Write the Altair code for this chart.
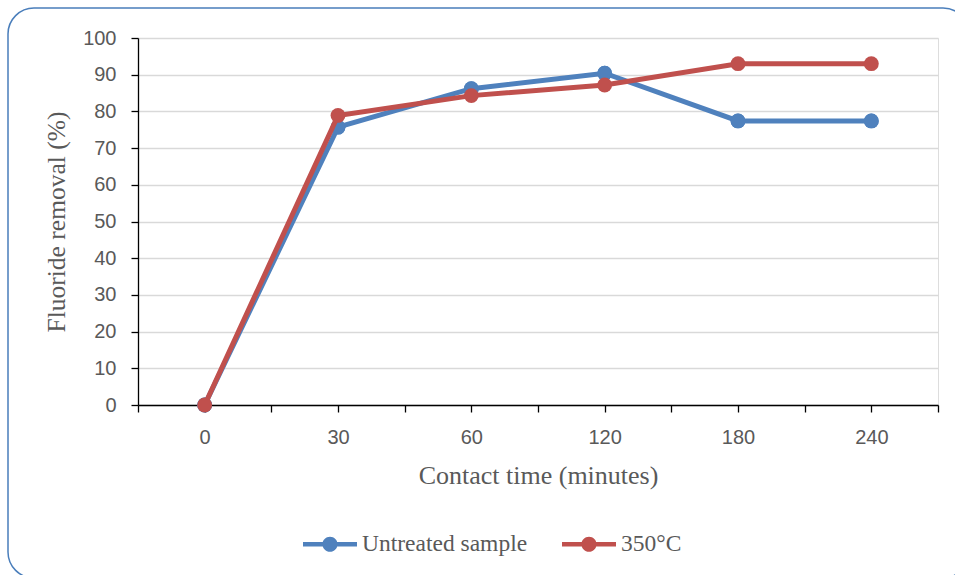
import altair as alt
import pandas as pd

times = ["0", "30", "60", "120", "180", "240"]
untreated = [0, 75.7, 86.2, 90.4, 77.4, 77.4]
heated = [0, 78.9, 84.3, 87.2, 93.0, 93.0]
series = ["Untreated sample", "350°C"]
colors = ["#4F81BD", "#C0504D"]
y_ticks = [0, 10, 20, 30, 40, 50, 60, 70, 80, 90, 100]

rows = []
for name, vals in zip(series, [untreated, heated]):
    for i, (t, v) in enumerate(zip(times, vals)):
        rows.append({"time": t, "idx": i, "series": name, "removal": v})
df = pd.DataFrame(rows)

x_tick_vals = [i * 0.5 - 0.5 for i in range(2 * len(times) + 1)]
label_expr = "datum.value % 1 === 0 ? " + str(times) + "[datum.value] : ''"

sym_path = ("M-1,-0.085 L1,-0.085 L1,0.085 L-1,0.085 Z "
            "M0.28,0 A0.28,0.28 0 1,1 -0.28,0 A0.28,0.28 0 1,1 0.28,0 Z")

x_enc = alt.X(
    "idx:Q",
    scale=alt.Scale(domain=[-0.5, len(times) - 0.5], nice=False, zero=False),
    axis=alt.Axis(
        values=x_tick_vals, labelExpr=label_expr, grid=False,
        title="Contact time (minutes)",
        domainColor="black", domainWidth=1.3, tickColor="black", tickWidth=1.3,
        tickSize=7, labelPadding=15, labelFont="Liberation Sans", labelFontSize=20,
        labelColor="#595959", labelOverlap=False, labelFlush=False,
        titleFont="Liberation Serif", titleFontSize=26, titleFontWeight="normal",
        titleColor="#595959", titlePadding=15,
    ),
)
y_enc = alt.Y(
    "removal:Q",
    scale=alt.Scale(domain=[0, 100], nice=False),
    axis=alt.Axis(
        values=y_ticks, grid=True, gridColor="#D9D9D9", gridWidth=1.5,
        title="Fluoride removal (%)",
        domainColor="black", domainWidth=1.3, tickColor="black", tickWidth=1.3,
        tickSize=7, labelPadding=15, labelFont="Liberation Sans", labelFontSize=20,
        labelColor="#595959",
        titleFont="Liberation Serif", titleFontSize=25.5, titleFontWeight="normal",
        titleColor="#595959", titlePadding=13,
    ),
)
legend = alt.Legend(
    title=None, orient="none", direction="horizontal", legendX=165, legendY=479,
    symbolType=sym_path, symbolSize=2916, symbolStrokeWidth=0, symbolOpacity=1,
    labelFont="Liberation Serif", labelFontSize=23.5, labelColor="#595959",
    labelOffset=5, columnPadding=34, labelLimit=400,
)
color_enc = alt.Color("series:N", scale=alt.Scale(domain=series, range=colors), legend=legend)

base = alt.Chart(df)
layers = []
for name in series:
    layers.append(
        base.transform_filter(alt.datum.series == name)
        .mark_line(strokeWidth=5)
        .encode(x=x_enc, y=y_enc, color=color_enc, order="idx:Q")
    )
    layers.append(
        base.transform_filter(alt.datum.series == name)
        .mark_point(filled=True, size=220, opacity=1, shape="circle")
        .encode(x=x_enc, y=y_enc, color=color_enc)
    )
# point layer first so the shared legend draws filled symbols
layers.insert(0, layers[1])

frame = alt.Chart(pd.DataFrame({"k": [0]})).mark_rect(
    fill=None, fillOpacity=0, stroke="#4A7EBB", strokeWidth=1.5, cornerRadius=26
).encode(
    x=alt.value(-130), x2=alt.value(831), y=alt.value(-30), y2=alt.value(540)
)

chart = alt.layer(frame, *layers).properties(
    width=800, height=367,
    autosize=alt.AutoSizeParams(type="none"),
    padding={"left": 138, "top": 38, "right": 17, "bottom": 170},
).configure_view(stroke=None).configure(background="white")

chart.save("out.html", embed_options={"renderer": "svg", "actions": False})
